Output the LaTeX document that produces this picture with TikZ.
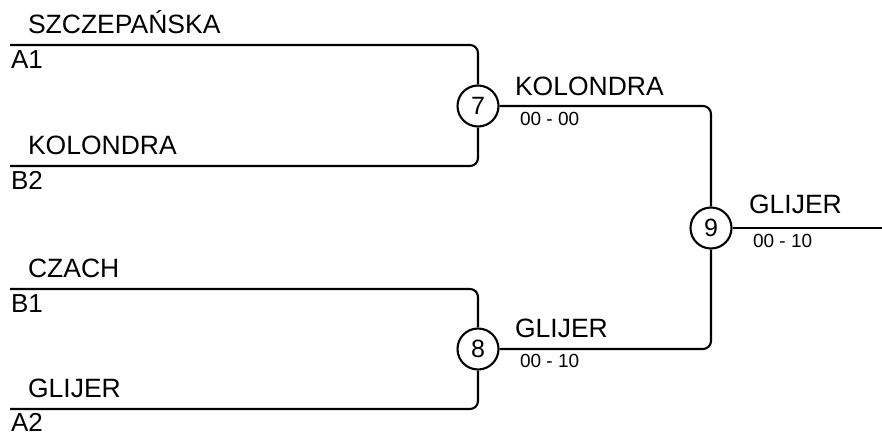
\documentclass[tikz,border=0pt]{standalone}
\usepackage{fontspec}
\setmainfont{Liberation Sans}
\usepackage{tikz}

\begin{document}
\begin{tikzpicture}[x=1pt, y=-1pt, line width=2.1pt, rounded corners=8pt,
    player/.style={anchor=base west, inner sep=0pt, font=\fontsize{26.5}{30}\selectfont},
    seed/.style={anchor=base west, inner sep=0pt, font=\fontsize{26}{30}\selectfont},
    score/.style={anchor=base west, inner sep=0pt, font=\fontsize{19}{22}\selectfont},
    match/.style={draw, circle, minimum size=41pt, inner sep=0pt, fill=white, font=\fontsize{25}{30}\selectfont}]
            \useasboundingbox (0,0) rectangle (882,434);

            % matches
            \node[match] (m7) at (478,106) {7};
            \node[match] (m8) at (478,349) {8};
            \node[match] (m9) at (711,228) {9};

            % first round
            \node[player] (p1) at (27,33) {SZCZEPAŃSKA};
            \node[seed] (s1) at (10,68) {A1};
            \node[player] (p2) at (27,154) {KOLONDRA};
            \node[seed] (s2) at (10,189) {B2};
            \node[player] (p3) at (27,277) {CZACH};
            \node[seed] (s3) at (10,312) {B1};
            \node[player] (p4) at (27,397) {GLIJER};
            \node[seed] (s4) at (10,431) {A2};

            \coordinate (a1) at (10,45);
            \coordinate (b2) at (10,166);
            \coordinate (b1) at (10,289);
            \coordinate (a2) at (10,409);

            \draw (a1) -| (m7);
            \draw (b2) -| (m7);
            \draw (b1) -| (m8);
            \draw (a2) -| (m8);

            % winners
            \node[player] (w7) at (514,95) {KOLONDRA};
            \node[score] (r7) at (519,125) {00 - 00};
            \node[player] (w8) at (514,337) {GLIJER};
            \node[score] (r8) at (519,367) {00 - 10};
            \node[player] (w9) at (748,213) {GLIJER};
            \node[score] (r9) at (752,247) {00 - 10};

            \draw (m7) -| (m9);
            \draw (m8) -| (m9);

            \coordinate (out) at (882,228);
            \draw (m9) -- (out);
        \end{tikzpicture}
\end{document}
